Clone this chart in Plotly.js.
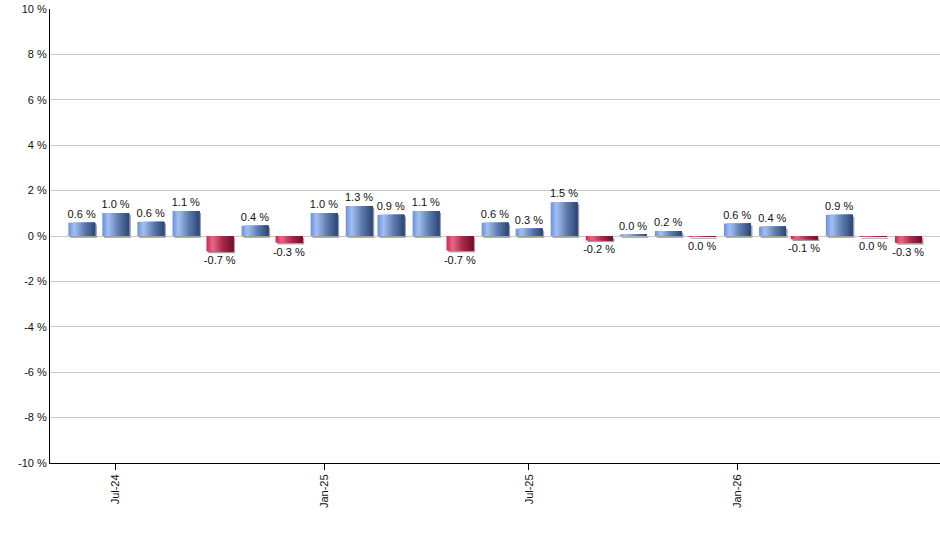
<!DOCTYPE html>
<html>
<head>
<meta charset="utf-8">
<script src="https://cdn.plot.ly/plotly-3.0.1.min.js"></script>
<style>html,body{margin:0;padding:0;background:#fff;}#chart{width:940px;height:550px;}</style>
</head>
<body>
<div id="chart"></div>
<script>
// ---- data ----
var months = ["2024-06-01","2024-07-01","2024-08-01","2024-09-01","2024-10-01","2024-11-01","2024-12-01",
              "2025-01-01","2025-02-01","2025-03-01","2025-04-01","2025-05-01","2025-06-01","2025-07-01",
              "2025-08-01","2025-09-01","2025-10-01","2025-11-01","2025-12-01","2026-01-01","2026-02-01",
              "2026-03-01","2026-04-01","2026-05-01","2026-06-01"];
var values = [0.58, 1.01, 0.62, 1.10, -0.68, 0.45, -0.29, 1.01, 1.32, 0.93, 1.10, -0.64, 0.58, 0.32,
              1.48, -0.19, 0.06, 0.22, -0.04, 0.54, 0.41, -0.14, 0.93, -0.04, -0.30];
var labels = ["0.6 %","1.0 %","0.6 %","1.1 %","-0.7 %","0.4 %","-0.3 %","1.0 %","1.3 %","0.9 %","1.1 %","-0.7 %",
              "0.6 %","0.3 %","1.5 %","-0.2 %","0.0 %","0.2 %","0.0 %","0.6 %","0.4 %","-0.1 %","0.9 %","0.0 %","-0.3 %"];
var yTickVals = [-10,-8,-6,-4,-2,0,2,4,6,8,10];
var yTickText = ["-10 %","-8 %","-6 %","-4 %","-2 %","0 %","2 %","4 %","6 %","8 %","10 %"];
var xTickVals = ["2024-07-01","2025-01-01","2025-07-01","2026-01-01"];

// ---- styling helpers ----
var DAY = 86400000;
var barW = 23.6 * DAY;
var N = 24;
var blueStops = [[0,[104,144,224]],[0.22,[164,192,242]],[0.6,[94,124,176]],[1,[46,70,114]]];
var redStops  = [[0,[216,32,74]],[0.22,[230,106,136]],[0.6,[168,42,74]],[1,[110,18,40]]];
function interp(stops, t){
  for (var i=0;i<stops.length-1;i++){
    var a=stops[i], b=stops[i+1];
    if (t>=a[0] && t<=b[0]){
      var f=(t-a[0])/(b[0]-a[0]);
      var c=a[1].map(function(v,k){return Math.round(v+(b[1][k]-v)*f);});
      return 'rgb('+c.join(',')+')';
    }
  }
  return 'rgb('+stops[stops.length-1][1].join(',')+')';
}

var traces = [];
// shadow
traces.push({
  type:'bar', x:months, y:values, base:-0.08, width:barW, offset:-barW/2 + 1.6*DAY,
  marker:{color:'#a0a0a0', line:{width:0}}, hoverinfo:'skip', showlegend:false
});
// gradient stripes: each stripe runs from its start to the bar's right edge, later ones cover earlier
for (var s=0;s<N;s++){
  var t=(s+0.5)/N;
  var cb=interp(blueStops,t), cr=interp(redStops,t);
  traces.push({
    type:'bar', x:months, y:values,
    width:barW*(N-s)/N, offset:-barW/2 + s*barW/N,
    marker:{color:values.map(function(v){return v<0?cr:cb;}), line:{width:0}},
    hoverinfo:'skip', showlegend:false
  });
}
// labels
traces.push({
  type:'bar', x:months, y:values, width:barW, text:labels, textposition:'outside', constraintext:'none',
  textfont:{family:'Liberation Sans, Arial, sans-serif', size:11, color:'#111'},
  marker:{color:'rgba(0,0,0,0)', line:{width:0}}, cliponaxis:false, showlegend:false
});

var layout = {
  width:940, height:550,
  margin:{l:50, r:0, t:9, b:87},
  paper_bgcolor:'#fff', plot_bgcolor:'#fff',
  barmode:'overlay', showlegend:false,
  font:{family:'Liberation Sans, Arial, sans-serif', size:11, color:'#111'},
  xaxis:{type:'date', range:['2024-05-04','2026-06-29'], tickvals:xTickVals, tickformat:'%b-%y',
         tickangle:-90, ticks:'outside', ticklen:6, tickcolor:'#000', showgrid:false, zeroline:false,
         showline:true, linecolor:'#000', linewidth:1, tickfont:{size:11, color:'#111'}},
  yaxis:{range:[-10,10], tickvals:yTickVals, ticktext:yTickText, showgrid:true, gridcolor:'#c8c8c8',
         zeroline:false, showline:true, linecolor:'#000', linewidth:1, ticks:'', tickfont:{size:11, color:'#111'}}
};
Plotly.newPlot('chart', traces, layout, {displayModeBar:false, staticPlot:true});
</script>
</body>
</html>
